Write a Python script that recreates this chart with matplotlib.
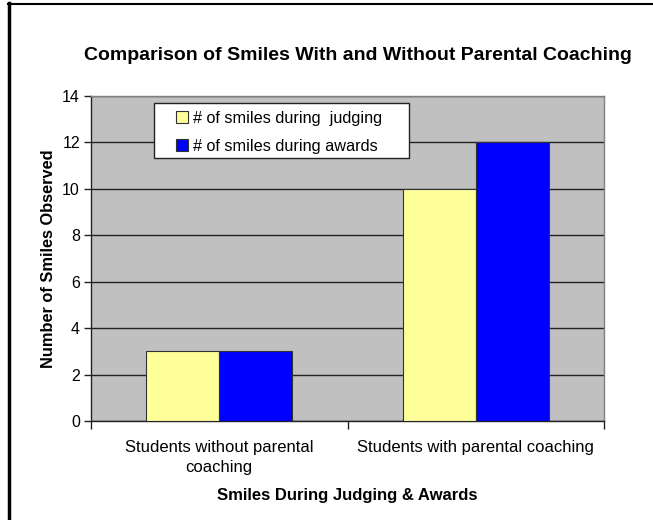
import matplotlib.pyplot as plt
import matplotlib.lines as mlines
import matplotlib.patches as mpatches
import numpy as np

plt.rcParams['font.family'] = ['Liberation Sans', 'DejaVu Sans']

categories = ["Students without parental\ncoaching", "Students with parental coaching"]
judging = [3, 10]
awards = [3, 12]
series_names = ["# of smiles during  judging", "# of smiles during awards"]
yticks = [0, 2, 4, 6, 8, 10, 12, 14]

W, H = 653, 520
fig = plt.figure(figsize=(W / 100, H / 100), dpi=100)
ax = fig.add_axes([91 / W, 1 - 421 / H, 513 / W, 325 / H])
ax.set_facecolor('#C0C0C0')

x = np.arange(len(categories))
w = 0.284
ax.bar(x - w / 2, judging, w, color='#FFFF99', edgecolor='#333333', linewidth=0.8,
       label=series_names[0], zorder=3)
ax.bar(x + w / 2, awards, w, color='#0000FF', edgecolor='#333333', linewidth=0.8,
       label=series_names[1], zorder=3)

ax.set_xlim(-0.5, 1.5)
ax.set_ylim(0, 14)
ax.set_yticks(yticks)
ax.yaxis.grid(True, color='#222222', linewidth=1, zorder=1)
ax.set_axisbelow(True)

# category labels centred, ticks at category boundaries
ax.set_xticks([-0.5, 0.5, 1.5])
ax.set_xticklabels([])
ax.set_xticks(x, minor=True)
ax.set_xticklabels(categories, minor=True, fontsize=12, linespacing=1.4)
ax.tick_params(axis='x', which='minor', length=0, pad=14)
ax.tick_params(axis='x', which='major', length=6, width=1, color='#222222')
ax.tick_params(axis='y', length=5, width=1, color='#222222', labelsize=11.5, pad=3)

for s in ['left', 'bottom']:
    ax.spines[s].set_color('#222222')
    ax.spines[s].set_linewidth(1)
for s in ['top', 'right']:
    ax.spines[s].set_color('#808080')
    ax.spines[s].set_linewidth(1)

ax.set_ylabel("Number of Smiles Observed", fontsize=11.8, fontweight='bold', labelpad=4)
ax.set_xlabel("Smiles During Judging & Awards", fontsize=12, fontweight='bold', labelpad=9)
fig.text(358 / W, 1 - 55 / H, "Comparison of Smiles With and Without Parental Coaching",
         ha='center', va='center', fontsize=14, fontweight='bold')

# legend frame drawn separately (Excel keeps a wide left margin)
ax.add_patch(mpatches.Rectangle((154 / W, 1 - 158 / H), 255 / W, 55 / H,
                                transform=fig.transFigure, facecolor='white',
                                edgecolor='#222222', linewidth=1, zorder=4,
                                clip_on=False))
leg = ax.legend(loc='center left', bbox_to_anchor=(176 / W, 1 - 132.5 / H),
                bbox_transform=fig.transFigure,
                fontsize=11.7, frameon=False, handlelength=0.75, handleheight=0.75,
                handletextpad=0.3, borderpad=0, labelspacing=0.8,
                borderaxespad=0)
leg.set_zorder(5)

# partial outer border (left and top)
fig.add_artist(mlines.Line2D([9 / W, 9 / W], [0, 1 - 3 / H], color='black', linewidth=2.5))
fig.add_artist(mlines.Line2D([8 / W, 1], [1 - 4 / H, 1 - 4 / H], color='black', linewidth=1.5))

fig.savefig('out.png', dpi=100)
